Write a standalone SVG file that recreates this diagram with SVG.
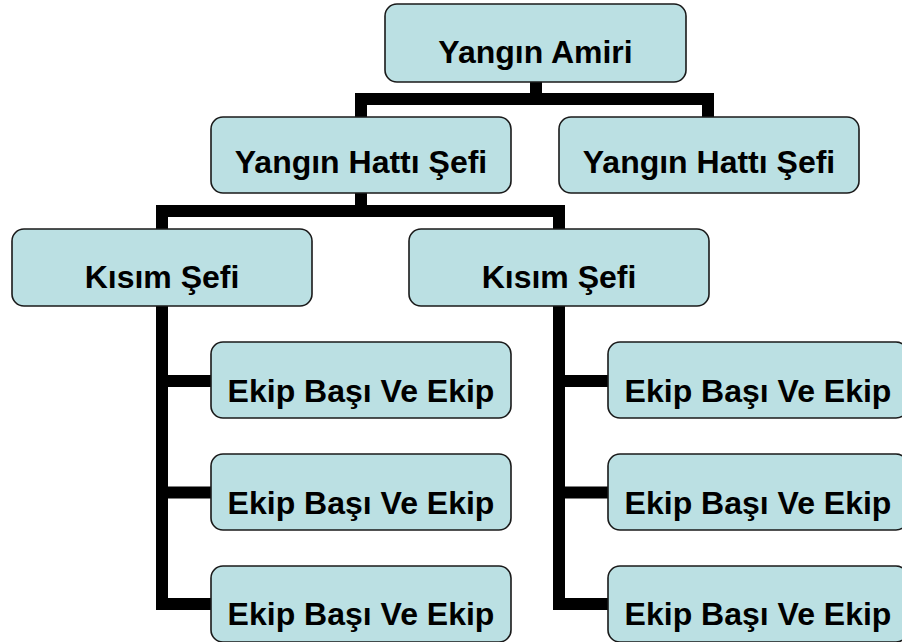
<svg xmlns="http://www.w3.org/2000/svg" width="902" height="642" viewBox="0 0 902 642">
<style>
.box{fill:#BBE0E3;stroke:#1a1a1a;stroke-width:1.6}
.lbl{font-family:"Liberation Sans",Arial,sans-serif;font-weight:bold;font-size:32px;fill:#000;text-anchor:middle}
.con{fill:none;stroke:#000;stroke-width:12;stroke-linejoin:miter;stroke-linecap:butt}
</style>
<rect width="902" height="642" fill="#fff"/>
<g id="connectors">
<path class="con" d="M536 82 V99"/>
<path class="con" d="M361 117 V99 H708 V117"/>
<path class="con" d="M361 193 V211"/>
<path class="con" d="M162 229 V211 H559 V229"/>
<path class="con" d="M162 306 V604 H211"/>
<path class="con" d="M162 381 H211"/>
<path class="con" d="M162 492.5 H211"/>
<path class="con" d="M559 306 V604 H608"/>
<path class="con" d="M559 381 H608"/>
<path class="con" d="M559 492.5 H608"/>
</g>
<g id="yangin-amiri"><rect class="box" x="385" y="4" width="301" height="78" rx="12"/><text class="lbl" x="535.5" y="63">Yangın Amiri</text></g>
<g id="hatti-sefi-1"><rect class="box" x="211" y="117" width="300" height="76" rx="12"/><text class="lbl" x="361" y="173">Yangın Hattı Şefi</text></g>
<g id="hatti-sefi-2"><rect class="box" x="559" y="117" width="300" height="76" rx="12"/><text class="lbl" x="709" y="173">Yangın Hattı Şefi</text></g>
<g id="kisim-sefi-1"><rect class="box" x="12" y="229" width="300" height="77" rx="12"/><text class="lbl" x="162" y="288">Kısım Şefi</text></g>
<g id="kisim-sefi-2"><rect class="box" x="409" y="229" width="300" height="77" rx="12"/><text class="lbl" x="559" y="288">Kısım Şefi</text></g>
<g id="ekip-1-1"><rect class="box" x="211" y="342" width="300" height="76" rx="12"/><text class="lbl" x="361" y="402">Ekip Başı Ve Ekip</text></g>
<g id="ekip-1-2"><rect class="box" x="211" y="454" width="300" height="76" rx="12"/><text class="lbl" x="361" y="514">Ekip Başı Ve Ekip</text></g>
<g id="ekip-1-3"><rect class="box" x="211" y="566" width="300" height="76" rx="12"/><text class="lbl" x="361" y="625">Ekip Başı Ve Ekip</text></g>
<g id="ekip-2-1"><rect class="box" x="608" y="342" width="300" height="76" rx="12"/><text class="lbl" x="758" y="402">Ekip Başı Ve Ekip</text></g>
<g id="ekip-2-2"><rect class="box" x="608" y="454" width="300" height="76" rx="12"/><text class="lbl" x="758" y="514">Ekip Başı Ve Ekip</text></g>
<g id="ekip-2-3"><rect class="box" x="608" y="566" width="300" height="76" rx="12"/><text class="lbl" x="758" y="625">Ekip Başı Ve Ekip</text></g>
</svg>
